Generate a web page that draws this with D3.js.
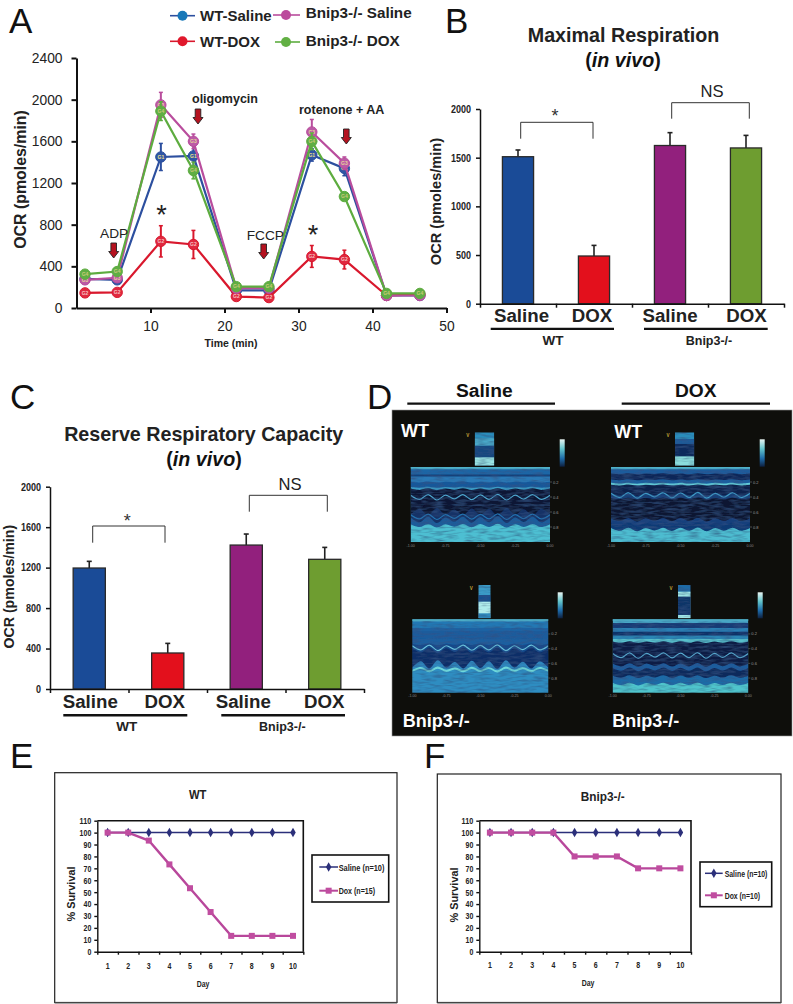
<!DOCTYPE html>
<html><head><meta charset="utf-8">
<script src="https://d3js.org/d3.v7.min.js"></script>
<style>
html,body{margin:0;padding:0;background:#fff}
svg{display:block}
text{font-family:"Liberation Sans",Arial,sans-serif;fill:#111}
</style></head><body>
<svg id="fig" width="793" height="1004"></svg>
<script>
// ---------- Panel A data
const timeMin = [1.15,5.5,11.4,15.8,21.6,26,31.8,36.2,41.9,46.4];
const wtSaline = [280,270,1450,1460,170,170,1470,1340,120,120];
const wtSalineErr = [30,30,130,110,20,20,60,70,15,15];
const koSaline = [270,290,1950,1600,190,190,1690,1390,120,120];
const koSalineErr = [30,30,120,70,20,20,120,60,15,15];
const wtDox = [145,150,640,610,110,100,495,465,120,130];
const wtDoxErr = [20,20,150,135,30,30,105,90,20,20];
const koDox = [325,350,1890,1320,205,205,1600,1070,140,140];
const koDoxErr = [30,30,90,80,20,20,80,30,30,30];
const ocrTicks = [0,400,800,1200,1600,2000,2400];
const timeTicks = [10,20,30,40,50];
// ---------- Panels B, C data
const groups = ["Saline","DOX","Saline","DOX"];
const barColors = ["#1a4b97","#e3101c","#92207d","#6e9d30"];
const maxResp = [1510,490,1625,1600];
const maxRespTop = [1579,599,1757,1729];
const maxTicks = [0,500,1000,1500,2000];
const reserve = [1196,356,1423,1282];
const reserveTop = [1262,451,1532,1400];
const reserveTicks = [0,400,800,1200,1600,2000];
// ---------- Panels E, F data
const days = [1,2,3,4,5,6,7,8,9,10];
const surviveTicks = [0,10,20,30,40,50,60,70,80,90,100,110];
const salineWT = [100,100,100,100,100,100,100,100,100,100];
const doxWT = [100,100,93.3,73.3,53.3,33.3,13.3,13.3,13.3,13.3];
const salineKO = [100,100,100,100,100,100,100,100,100,100];
const doxKO = [100,100,100,100,80,80,80,70,70,70];
// ---------- Panel D, echo picture approximations (beat cycle + tissue layers)
const beat = [.2,.9,.1,1,.2,.8,.1,.95,.15,.9,.05,1,.2,.85,.1,.9,.2];
const echoWS = {d:[0,.03,.1,.125,.2,.27,.295,.52,.6,.7,.78],
  c:["#46a6c6","#1d66a6","#123f78","#2a79b6","#19589a","#3a9cc6","#0b1534","#0a1230","#123266","#1a5b9a","#4ebfd2"],
  a:[0,0,0,0,1,1,2,6,-8,7,4]};
const echoWD = {d:[0,.03,.09,.17,.215,.24,.36,.42,.7,.76,.83],
  c:["#46a6c6","#1c5c9c","#102858","#1c5f9e","#62ccda","#11244e","#173f78","#0a1230","#173f7c","#113a74","#4ebcd0"],
  a:[0,0,1,1,1,1,4,2,4,4,4]};
const echoKS = {d:[0,.03,.12,.16,.26,.34,.42,.62,.67,.7],
  c:["#46a6c6","#2378b4","#1c63a4","#1a5c9c","#1a5e9f","#134a8a","#0f2d68","#2d86bd","#6ed8dc","#2e8dc1"],
  a:[0,0,0,0,1,2,6,-9,-4,-4]};
const echoKD = {d:[0,.05,.12,.17,.22,.27,.31,.62,.68,.78,.88],
  c:["#46a6c6","#123a74","#2a7fb4","#0f3268","#2a85b4","#58c0cc","#0c1a44","#1c5c9c","#102a5c","#1d6aa6","#50c4cc"],
  a:[0,0,0,0,0,0,2,4,4,3,3]};
const echoWave = {ws:[.40,.66],wd:[.375],ks:[.385],kd:[.49]};
const insetWS = {d:[0,.18,.4,.75],c:["#2b8dbb","#4aa8c8","#16477f","#9ae4e4"]};
const insetWD = {d:[0,.2,.35,.72],c:["#2b8dbb","#1a5c9a","#0f2a5c","#8adcdc"]};
const insetKS = {d:[0,.3,.5,.85],c:["#3a9cc8","#174f8e","#b0ecec","#2f8cc0"]};
const insetKD = {d:[0,.2,.35,.9],c:["#1d6aa6","#a0e6e6","#103468","#a0e6e6"]};
const echoScale = ["0.2","0.4","0.6","0.8"];

const svg = d3.select("#fig");
const defs = svg.append("defs");
const font = "Liberation Sans";
function txt(x,y,s,o={}){
  const t = svg.append("text").attr("x",x).attr("y",y)
    .attr("font-size",o.size||12).attr("font-weight",o.bold?"bold":"normal")
    .attr("text-anchor",o.anchor||"start").text(s);
  if(o.rot!==undefined) t.attr("transform",`rotate(${o.rot},${x},${y})`);
  if(o.fill) t.style("fill",o.fill);
  if(o.len) t.attr("textLength",o.len).attr("lengthAdjust","spacingAndGlyphs");
  return t;
}
function vivo(x,y){
  const t = svg.append("text").attr("x",x).attr("y",y).attr("text-anchor","middle")
    .attr("font-size",19.7).attr("font-weight","bold");
  t.append("tspan").text("(");
  t.append("tspan").attr("font-style","italic").text("in vivo");
  t.append("tspan").text(")");
}
const plain = d3.format("d");
// panel letters
[["A",9,33],["B",445,33],["C",10,409],["D",367,409],["E",10,768],["F",424,768]]
  .forEach(d=>txt(d[1],d[2],d[0],{size:35}));

// ========== Panel A
(function(){
  const x = d3.scaleLinear([0,50],[76.5,446.5]);
  const y = d3.scaleLinear([0,2400],[308,58]);
  const g = svg.append("g");
  const ax = g.append("g").attr("transform","translate(0,308)")
    .call(d3.axisBottom(x).tickValues(timeTicks).tickSize(5).tickSizeOuter(0).tickPadding(8).tickFormat(plain));
  const ay = g.append("g").attr("transform","translate(76.5,0)")
    .call(d3.axisLeft(y).tickValues(ocrTicks).tickSize(5).tickSizeOuter(0).tickPadding(9).tickFormat(plain));
  [ax,ay].forEach(a=>{a.selectAll("path,line").attr("stroke","#111").attr("stroke-width",2);
    a.selectAll("text").attr("font-size",13.8).attr("font-family",font).style("fill","#222");});
  const series = [
    {v:wtSaline,e:wtSalineErr,c:"#2c4f9f",f:"#2f56a5",lab:"G1",t:"#f0e08a"},
    {v:wtDox,e:wtDoxErr,c:"#d9182d",f:"#e0283f",lab:"G2",t:"#f5c0c0"},
    {v:koSaline,e:koSalineErr,c:"#b94d9d",f:"#bc5aa6",lab:"G3",t:"#e6d39a"},
    {v:koDox,e:koDoxErr,c:"#5dac3f",f:"#5fae44",lab:"G4",t:"#c9c977"}];
  const line = d3.line().x((d,i)=>x(timeMin[i])).y(d=>y(d));
  series.forEach(s=>{
    const sg = g.append("g");
    sg.append("path").attr("d",line(s.v)).attr("fill","none").attr("stroke",s.c).attr("stroke-width",2.2);
    s.v.forEach((v,i)=>{
      const cx=x(timeMin[i]);
      sg.append("line").attr("x1",cx).attr("x2",cx).attr("y1",y(v-s.e[i])).attr("y2",y(v+s.e[i])).attr("stroke",s.c).attr("stroke-width",2);
      [v-s.e[i],v+s.e[i]].forEach(w=>sg.append("line").attr("x1",cx-2).attr("x2",cx+2).attr("y1",y(w)).attr("y2",y(w)).attr("stroke",s.c).attr("stroke-width",1.5));
      sg.append("circle").attr("cx",cx).attr("cy",y(v)).attr("r",5.2).attr("fill",s.f).attr("stroke",s.c).attr("stroke-width",1);
      sg.append("text").attr("x",cx).attr("y",y(v)+1.8).attr("text-anchor","middle").attr("font-size",5).attr("font-weight","bold").style("fill",s.t).text(s.lab);
    });
  });
  // legend
  [[170,195,15.7,182.5,"#2c4f9f","#1878b8"],[273,300,15,286,"#b94d9d","#bb4a9c"],
   [170,195,41.3,182.5,"#d9182d","#e0182c"],[275,300,42,286,"#5dac3f","#62b044"]].forEach(l=>{
    svg.append("line").attr("x1",l[0]).attr("x2",l[1]).attr("y1",l[2]).attr("y2",l[2]).attr("stroke",l[4]).attr("stroke-width",1.6);
    svg.append("circle").attr("cx",l[3]).attr("cy",l[2]).attr("r",5).attr("fill",l[5]);
  });
  txt(200,20.7,"WT-Saline",{size:15,bold:1,fill:"#222"});
  txt(305.7,17.5,"Bnip3-/- Saline",{size:15,bold:1,fill:"#222",len:106});
  txt(200,46.7,"WT-DOX",{size:15,bold:1,fill:"#222"});
  txt(305.7,45.7,"Bnip3-/- DOX",{size:15,bold:1,fill:"#222",len:94});
  txt(26,179.5,"OCR (pmoles/min)",{size:15.9,bold:1,rot:-90,anchor:"middle",fill:"#222"});
  txt(231,347,"Time (min)",{size:10.5,bold:1,anchor:"middle",fill:"#222"});
  txt(192,103,"oligomycin",{size:12.5,bold:1,fill:"#222"});
  txt(299,114,"rotenone + AA",{size:12.5,bold:1,fill:"#222"});
  txt(100,238,"ADP",{size:13.7,fill:"#222"});
  txt(246.7,240,"FCCP",{size:13.7,fill:"#222"});
  [[113.7,243],[198,109],[263.7,244],[346.3,129]].forEach(p=>{
    const [cx,t]=p;
    svg.append("path").attr("d",`M${cx-2.8},${t}H${cx+2.8}V${t+8.5}H${cx+5}L${cx},${t+15}L${cx-5},${t+8.5}H${cx-2.8}Z`)
      .attr("fill","#b5121f").attr("stroke","#222").attr("stroke-width",.9);
  });
  txt(161.5,224,"*",{size:27,anchor:"middle",fill:"#222"});
  txt(313,244,"*",{size:27,anchor:"middle",fill:"#222"});
})();

// ========== Bar panels B, C
function barPanel(c){
  const x = d3.scaleBand(d3.range(groups.length),[c.x0,c.x1]).paddingInner(.59).paddingOuter(.295);
  const edge = d3.scaleLinear([0,groups.length],[c.x0,c.x1]);
  const y = d3.scaleLinear([0,2000],[c.yb,c.yt]);
  const g = svg.append("g");
  c.vals.forEach((v,i)=>{
    const cx=x(i)+x.bandwidth()/2;
    g.append("line").attr("x1",cx).attr("x2",cx).attr("y1",y(v)).attr("y2",y(c.tops[i])).attr("stroke","#222").attr("stroke-width",1.6);
    g.append("line").attr("x1",cx-2.5).attr("x2",cx+2.5).attr("y1",y(c.tops[i])).attr("y2",y(c.tops[i])).attr("stroke","#222").attr("stroke-width",1.6);
    g.append("rect").attr("x",x(i)).attr("width",x.bandwidth()).attr("y",y(v)).attr("height",y(0)-y(v))
      .attr("fill",barColors[i]).attr("stroke","#2a2a2a").attr("stroke-width",1.3);
  });
  const ax=g.append("g").attr("transform",`translate(0,${c.yb})`).call(d3.axisBottom(edge).ticks(groups.length).tickSize(4).tickSizeOuter(0).tickFormat(""));
  const ay=g.append("g").attr("transform",`translate(${c.x0},0)`).call(d3.axisLeft(y).tickValues(c.ticks).tickSize(4).tickSizeOuter(0).tickPadding(5).tickFormat(plain));
  [ax,ay].forEach(a=>{a.selectAll("path,line").attr("stroke","#111").attr("stroke-width",1.5);
    a.selectAll("text").attr("font-size",10.5).attr("font-weight","bold").attr("font-family",font).style("fill","#222")
      .attr("lengthAdjust","spacingAndGlyphs").attr("textLength",function(){return this.textContent.length*5;});});
  groups.forEach((s,i)=>txt(x(i)+x.bandwidth()/2+c.shift[i],c.catY,s,{size:18.7,bold:1,anchor:"middle",fill:"#222"}));
  c.under.forEach(u=>svg.append("line").attr("x1",u[0]).attr("x2",u[1]).attr("y1",c.catY+6.9).attr("y2",c.catY+6.9).attr("stroke","#111").attr("stroke-width",2.4));
  txt(c.wt,c.catY+23,"WT",{size:13.5,bold:1,anchor:"middle",fill:"#222"});
  txt(c.ko,c.catY+23,"Bnip3-/-",{size:12.5,bold:1,anchor:"middle",fill:"#222"});
  c.br.forEach(b=>svg.append("path").attr("d",`M${b[0]},${b[3]}V${b[2]}H${b[1]}V${b[3]}`).attr("fill","none").attr("stroke","#333").attr("stroke-width",1));
  txt(c.star[0],c.star[1],"*",{size:18,anchor:"middle",fill:"#333"});
  txt(c.ns[0],c.ns[1],"NS",{size:16.6,anchor:"middle",fill:"#222"});
  txt(c.lab[0],c.lab[1],"OCR (pmoles/min)",{size:c.lab[2],bold:1,rot:-90,anchor:"middle",fill:"#222"});
}
barPanel({x0:480,x1:784,yb:303.7,yt:109,vals:maxResp,tops:maxRespTop,ticks:maxTicks,
  shift:[3.5,-2,0,.5],catY:322,under:[[490.7,614],[644,767.7]],wt:553,ko:709,
  br:[[520.7,593,122.3,138.7],[671.7,749.3,102.7,118.7]],star:[555,122],ns:[712,97.3],lab:[441,201.5,14.6]});
barPanel({x0:50,x1:364,yb:689,yt:486.7,vals:reserve,tops:reserveTop,ticks:reserveTicks,
  shift:[1,-3,-3,-.5],catY:708.3,under:[[63.3,187.3],[221.3,345]],wt:126.7,ko:282.3,
  br:[[92.7,165,526,542.7],[249.3,327.3,495.3,511.7]],star:[127.3,527],ns:[290,490],lab:[14,586.7,14.2]});
txt(623.5,42.3,"Maximal Respiration",{size:19.7,bold:1,anchor:"middle",fill:"#222"});
vivo(623,66.7);
txt(203.7,441,"Reserve Respiratory Capacity",{size:19.7,bold:1,anchor:"middle",fill:"#222"});
vivo(204,465.7);

// ========== Panel D
(function(){
  txt(484.3,397.3,"Saline",{size:19.2,bold:1,anchor:"middle",fill:"#111"});
  txt(695.7,397.3,"DOX",{size:19.2,bold:1,anchor:"middle",fill:"#111"});
  [[407.3,555],[621.7,770]].forEach(l=>svg.append("line").attr("x1",l[0]).attr("x2",l[1]).attr("y1",403.7).attr("y2",403.7).attr("stroke","#111").attr("stroke-width",2.2));
  svg.append("rect").attr("x",392).attr("y",410).attr("width",400).attr("height",326).attr("fill","#0e0e0b").attr("stroke","#999").attr("stroke-width",.6);
  const speck = defs.append("filter").attr("id","speck").attr("x",0).attr("y",0).attr("width",1).attr("height",1);
  speck.append("feGaussianBlur").attr("in","SourceGraphic").attr("stdDeviation",.6).attr("result","b");
  speck.append("feTurbulence").attr("type","fractalNoise").attr("baseFrequency","0.09 0.45").attr("numOctaves",2).attr("seed",4).attr("result","n");
  speck.append("feColorMatrix").attr("in","n").attr("type","matrix")
    .attr("values","0 0 0 0 0.03  0 0 0 0 0.08  0 0 0 0 0.22  1.5 0 0 0 -0.6").attr("result","m");
  speck.append("feComposite").attr("in","m").attr("in2","b").attr("operator","atop");
  const cb = defs.append("linearGradient").attr("id","cbar").attr("x1",0).attr("x2",0).attr("y1",0).attr("y2",1);
  [[0,"#e8f4f2"],[.35,"#62c4cc"],[.7,"#1d6aa8"],[1,"#0e2040"]].forEach(s=>cb.append("stop").attr("offset",s[0]).attr("stop-color",s[1]));
  const panels = [
    {l:echoWS,n:insetWS,w:echoWave.ws,x0:410.7,x1:550,y0:467,y1:542,ix:474.7,iw:19.6,iy:432.3,ih:33.4,bx:559.7,by:439.3,bh:27.4,wc:["#4fa8d0","#2474b2"]},
    {l:echoWD,n:insetWD,w:echoWave.wd,x0:611,x1:750,y0:467,y1:542,ix:675,iw:19.3,iy:432.3,ih:33.4,bx:759.7,by:439.3,bh:27.4,wc:["#3f9cc6"]},
    {l:echoKS,n:insetKS,w:echoWave.ks,x0:412.3,x1:548.3,y0:619.3,y1:692.7,ix:478.3,iw:12.4,iy:585,ih:33.3,bx:557.7,by:592.3,bh:26,wc:["#6cc4de"]},
    {l:echoKD,n:insetKD,w:echoWave.kd,x0:612.7,x1:748.3,y0:619.3,y1:692.7,ix:678,iw:12.7,iy:585,ih:33.3,bx:757.7,by:592.3,bh:26,wc:["#58acd0"]}
  ];
  panels.forEach((p,pi)=>{
    const xs = d3.scalePoint(d3.range(beat.length),[p.x0,p.x1]);
    const ys = d3.scaleLinear([0,1],[p.y0,p.y1]);
    const id="clipE"+pi;
    defs.append("clipPath").attr("id",id).append("rect").attr("x",p.x0).attr("y",p.y0).attr("width",p.x1-p.x0).attr("height",p.y1-p.y0);
    const g = svg.append("g").attr("clip-path",`url(#${id})`).append("g").attr("filter","url(#speck)");
    g.append("rect").attr("x",p.x0).attr("y",p.y0).attr("width",p.x1-p.x0).attr("height",p.y1-p.y0).attr("fill",p.l.c[0]);
    p.l.d.forEach((d,i)=>{
      const area = d3.area().x((b,k)=>xs(k)).y0(p.y1+5).y1(b=>ys(d)+p.l.a[i]*(b-.5)).curve(d3.curveCatmullRom);
      g.append("path").attr("d",area(beat)).attr("fill",p.l.c[i]);
    });
    p.w.forEach((d,i)=>{
      const ln = d3.line().x((b,k)=>xs(k)).y(b=>ys(d)+6*(b-.5)).curve(d3.curveCatmullRom);
      g.append("path").attr("d",ln(beat)).attr("fill","none").attr("stroke",p.wc[i]).attr("stroke-width",1.2);
    });
    svg.append("rect").attr("x",p.x0).attr("y",p.y0).attr("width",p.x1-p.x0).attr("height",1.4).attr("fill","#4fb0c8");
    // inset thumbnail
    const iid="clipI"+pi;
    defs.append("clipPath").attr("id",iid).append("rect").attr("x",p.ix).attr("y",p.iy).attr("width",p.iw).attr("height",p.ih);
    const ig = svg.append("g").attr("clip-path",`url(#${iid})`).append("g").attr("filter","url(#speck)");
    const iy = d3.scaleLinear([0,1],[p.iy,p.iy+p.ih]);
    p.n.d.forEach((d,i)=>ig.append("rect").attr("x",p.ix).attr("width",p.iw).attr("y",iy(d)).attr("height",p.ih*(1-d)).attr("fill",p.n.c[i]));
    svg.append("rect").attr("x",p.bx).attr("y",p.by).attr("width",5).attr("height",p.bh).attr("fill","url(#cbar)");
    echoScale.forEach((s,i)=>{
      txt(p.x1+3,ys((i+1)/5)+1.5,s,{size:4,fill:"#999"});
      svg.append("line").attr("x1",p.x1).attr("x2",p.x1+2).attr("y1",ys((i+1)/5)).attr("y2",ys((i+1)/5)).attr("stroke","#888").attr("stroke-width",.5);
    });
    ["-1.00","-0.75","-0.50","-0.25","0.00"].forEach((s,i)=>txt(p.x0+(p.x1-p.x0)*i/4,p.y1+4.5,s,{size:3.6,anchor:"middle",fill:"#888"}));
    txt(p.ix-7,p.iy+5,"V",{size:4.5,bold:1,fill:"#c9a83a",anchor:"middle"});
  });
  const w={size:18,bold:1,fill:"#fff"};
  txt(401,436.7,"WT",w); txt(614.3,437.7,"WT",w);
  txt(402.7,726.7,"Bnip3-/-",w); txt(612.3,726.7,"Bnip3-/-",w);
})();

// ========== Survival panels E, F
function surv(c){
  svg.append("rect").attr("x",c.bx0).attr("y",c.by0).attr("width",c.bx1-c.bx0).attr("height",1002.5-c.by0).attr("fill","#fff").attr("stroke","#222").attr("stroke-width",1.2);
  svg.append("path").attr("d",`M${c.bx0},1003H${c.bx1}`).attr("stroke","#666").attr("stroke-width",1);
  const x = d3.scaleBand(days,[c.x0,c.x1]);
  const edge = d3.scaleLinear([0,days.length],[c.x0,c.x1]);
  const y = d3.scaleLinear([0,110],[951.7,820.7]);
  const g = svg.append("g");
  const ax = g.append("g").attr("transform","translate(0,951.7)").call(d3.axisBottom(edge).ticks(10).tickSize(3).tickSizeOuter(0).tickFormat(""));
  const ay = g.append("g").attr("transform",`translate(${c.x0},0)`).call(d3.axisLeft(y).tickValues(surviveTicks).tickSize(3).tickSizeOuter(0).tickPadding(3).tickFormat(plain));
  [ax,ay].forEach(a=>{a.selectAll("path,line").attr("stroke","#111").attr("stroke-width",1.4);
    a.selectAll("text").attr("font-size",9).attr("font-weight","bold").attr("font-family",font).style("fill","#222")
      .attr("lengthAdjust","spacingAndGlyphs").attr("textLength",function(){return this.textContent.length*3.9;});});
  g.append("path").attr("d",`M${c.x0},820.7H${c.x1}V951.7`).attr("fill","none").attr("stroke","#111").attr("stroke-width",1.6);
  days.forEach(d=>txt(x(d)+x.bandwidth()/2,c.dayY,d,{size:9,bold:1,anchor:"middle",fill:"#222",len:String(d).length*3.9}));
  const line = d3.line().x((v,i)=>x(days[i])+x.bandwidth()/2).y(v=>y(v));
  const dia = d3.symbol().type(d3.symbolDiamond).size(26);
  g.append("path").attr("d",line(c.sal)).attr("fill","none").attr("stroke","#2b2f7a").attr("stroke-width",1.5);
  c.sal.forEach((v,i)=>g.append("path").attr("d",dia()).attr("transform",`translate(${x(days[i])+x.bandwidth()/2},${y(v)})`).attr("fill","#2b2f7a"));
  g.append("path").attr("d",line(c.dox)).attr("fill","none").attr("stroke","#b8479b").attr("stroke-width",2.4);
  c.dox.forEach((v,i)=>g.append("rect").attr("x",x(days[i])+x.bandwidth()/2-3).attr("y",y(v)-3).attr("width",6).attr("height",6).attr("fill","#c04da0"));
  txt(c.tx,c.ty,c.title,{size:c.ts,bold:1,anchor:"middle",fill:"#222",len:c.tl});
  txt(c.dx,c.dy,"Day",{size:9,bold:1,anchor:"middle",fill:"#222",len:12.7});
  txt(c.yl[0],c.yl[1],"% Survival",{size:10.9,bold:1,anchor:"middle",rot:-90,fill:"#222"});
  const L=c.leg;
  svg.append("rect").attr("x",L.x0).attr("y",L.y0).attr("width",L.x1-L.x0).attr("height",L.y1-L.y0).attr("fill","#fff").attr("stroke","#111").attr("stroke-width",1.6);
  svg.append("line").attr("x1",L.lx0).attr("x2",L.lx1).attr("y1",L.ly[0]).attr("y2",L.ly[0]).attr("stroke","#2b2f7a").attr("stroke-width",1.5);
  svg.append("path").attr("d",dia()).attr("transform",`translate(${(L.lx0+L.lx1)/2},${L.ly[0]})`).attr("fill","#2b2f7a");
  svg.append("line").attr("x1",L.lx0).attr("x2",L.lx1).attr("y1",L.ly[1]).attr("y2",L.ly[1]).attr("stroke","#b8479b").attr("stroke-width",2);
  svg.append("rect").attr("x",(L.lx0+L.lx1)/2-3).attr("y",L.ly[1]-3).attr("width",6).attr("height",6).attr("fill","#c04da0");
  txt(L.tx,L.ly[0]+3.7,L.s1,{size:9,bold:1,fill:"#222",len:L.w1});
  txt(L.tx,L.ly[1]+3.4,L.s2,{size:9,bold:1,fill:"#222",len:L.w2});
}
surv({bx0:54.7,bx1:397,by0:772.7,x0:97.3,x1:303.3,sal:salineWT,dox:doxWT,dayY:969,title:"WT",tx:197.7,ty:799,ts:13,tl:17.5,
  dx:203,dy:987,yl:[75,894],leg:{x0:312,x1:388.7,y0:855,y1:902,lx0:319.3,lx1:338,ly:[867,890.7],tx:338.7,s1:"Saline (n=10)",s2:"Dox (n=15)",w1:45.7,w2:36.3}});
surv({bx0:437.3,bx1:781,by0:774,x0:479.3,x1:691,sal:salineKO,dox:doxKO,dayY:968,title:"Bnip3-/-",tx:602.7,ty:801.3,ts:12,tl:44,
  dx:588,dy:986,yl:[458,895],leg:{x0:700,x1:771.7,y0:862,y1:906.7,lx0:705,lx1:722.7,ly:[873.3,895.3],tx:724.7,s1:"Saline (n=10)",s2:"Dox (n=10)",w1:42.7,w2:35.3}});
</script>
</body></html>
